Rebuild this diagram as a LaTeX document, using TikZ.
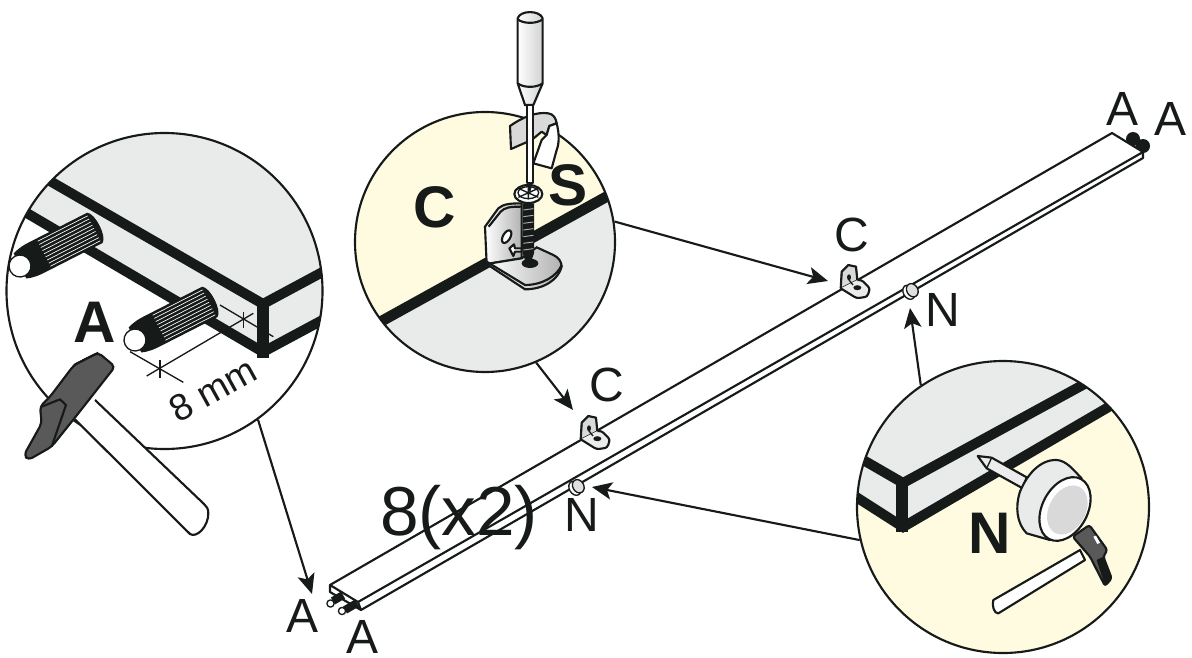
\documentclass[tikz,border=0pt]{standalone}
\usepackage{fontspec}
\setmainfont{Liberation Sans}
\usetikzlibrary{arrows.meta}
\definecolor{lensyellow}{HTML}{FFFBE0}
\definecolor{boardgray}{HTML}{E9EBEA}
\definecolor{ink}{HTML}{161A18}
\tikzset{
  lens/.style={circle,draw=ink,line width=1.6pt,inner sep=0pt,minimum size=#1},
  partlabel/.style={text=ink,inner sep=0pt,font=\fontsize{36}{36}\selectfont},
  lenslabel/.style={text=ink,inner sep=0pt,font=\fontsize{44}{44}\selectfont\bfseries},
  pointer/.style={draw=ink,line width=1.6pt,-{Stealth[length=15pt,width=13pt,inset=3.5pt]}},
  edge/.style={draw=ink,line width=1.6pt,line join=round},
  thin edge/.style={draw=ink,line width=1pt,line join=round},
  board/.style={draw=ink,line width=7.5pt},
  dowel/.pic={
    \fill[ink] (0,-14) .. controls (8,-17) and (14,-17) .. (20,-17) -- (84,-17)
        .. controls (91,-13) and (91,13) .. (84,17) -- (20,17)
        .. controls (14,17) and (8,17) .. (0,14) -- cycle;
    \foreach \s in {-14,-10.5,-7,-3.5,0,3.5,7,10.5,14}
      \draw[white,line width=.5pt] (27,\s) -- (83,\s);
    \draw[thin edge,fill=white] (0,0) ellipse [x radius=11,y radius=11];
  },
  clipbracket/.pic={
    \draw[thin edge,fill=gray!30] (-7.3,23.3) -- (-6.3,6.7) -- (0.3,0) -- (8,1.7) -- (9.3,15) -- cycle;
    \draw[edge,fill=gray!15,rounded corners=2pt] (-7.3,23.3) -- (8.7,33.3) -- (19.3,31.7) -- (22,23.3)
        -- (13.7,15) -- (9.3,15);
    \draw[edge] (-7.3,23.3) -- (-6.3,6.7) -- (0.3,0) -- (8,1.7) -- (9.3,15);
    \fill[ink] (1,12.3) ellipse [x radius=2,y radius=3];
    \fill[ink] (9.3,22.7) ellipse [x radius=4,y radius=2.5];
    \draw[thin edge] (1,15) -- (5,20);
  },
  capnail/.pic={
    \draw[thin edge,fill=white] (-2.5,0) ellipse [x radius=5.5,y radius=7.5];
    \draw[thin edge,fill=gray!25] (1.5,0) ellipse [x radius=5.5,y radius=7];
  },
  zoomA/.style={shift={(0,130)},scale=1/3},
  zoomC/.style={shift={(350,0)},scale=1/3},
  zoomN/.style={shift={(850,360)},scale=1/3},
}
\begin{document}
\begin{tikzpicture}[x=.75pt,y=-.75pt]
\useasboundingbox (0,0) rectangle (1192,657);

% long strip
\fill[ink] (1133,139) circle (7) (1143,146) circle (7);
\draw[edge,fill=white]
      (330,585) -- (1112,133) -- (1143,152) -- (358,602) -- cycle
      (330,585) -- (330,592) -- (361,610) -- (1143,158) -- (1143,152)
      (358,602) -- (361,610);
\draw[ink,line width=6pt] (343,595) -- (333,601) (357,603) -- (345,610);
\draw[thin edge,fill=white] (330.5,603.5) circle (3.6) (342,611) circle (3.6);

\pic at (848,265) {clipbracket};
\pic at (588,416) {clipbracket};
\pic[rotate=30] at (911,291) {capnail};
\pic[rotate=30] at (577,487) {capnail};

% lens A
\begin{scope}
\clip (164.5,291) circle (158);
\fill[white] (0,130) rectangle (330,450);
\fill[boardgray] (0,197) -- (263,352) -- (330,316) -- (330,130) -- (0,130) -- cycle;
\draw[board] (50,181) -- (263,304) -- (330,268);
\draw[board] (20,209) -- (263,352) -- (330,316);
\draw[ink,line width=8.5pt] (263,304) -- (263,358);
\pic[rotate=27] at (20,266) {dowel};
\pic[rotate=27] at (135,340) {dowel};
\begin{scope}[zoomA]
\draw[thin edge] (390,665) -- (550,757) (660,525) -- (820,620);
\draw[thin edge] (440,738) -- (760,550);
\draw[thin edge] (480,690) -- (480,745) (730,545) -- (730,595);
\end{scope}
\end{scope}
\node[lens=237pt] (lensA) at (164.5,291) {};
\node[lenslabel] (labelA) at (95,322) {A};
\node[text=ink,inner sep=0pt,rotate=29,font=\fontsize{28}{28}\selectfont] (labelmm) at (213,390) {8 mm};
\begin{scope}[zoomA]
\draw[edge,fill=white] (225,868) -- (570,1212) .. controls (590,1225) and (625,1190) .. (625,1150)
    .. controls (625,1135) and (620,1130) .. (612,1122) -- (285,810);
\draw[edge,fill=gray!70!black,rounded corners=3pt]
    (295,668) -- (345,710) -- (235,850) -- (155,950) -- (85,990) -- (72,975) -- (125,880)
    -- (120,830) -- (150,800) -- (222,705) -- cycle;
\draw[edge] (125,830) -- (180,808) -- (198,825) -- (155,950);
\draw[edge] (222,705) -- (295,668);
\end{scope}

% lens C
\begin{scope}
\clip (485,242) circle (130);
\fill[lensyellow] (350,110) rectangle (620,375);
\fill[boardgray] (375,325) -- (620,190) -- (620,375) -- (375,375) -- cycle;
\draw[ink,line width=8pt] (380,322) -- (615,192);
\end{scope}
\node[lens=195pt] (lensC) at (485,242) {};
\node[lenslabel] (labelC) at (435,207) {C};
\node[lenslabel] (labelS) at (568,185) {S};
\begin{scope}[zoomC]
\draw[edge,fill=gray!30] (480,378) .. controls (520,350) and (560,335) .. (595,340)
    .. controls (610,342) and (618,355) .. (620,370) -- (598,378) -- (590,405) -- (575,395)
    -- (545,420) -- (483,447) -- cycle;
\draw[edge,fill=white] (620,370) .. controls (628,400) and (628,430) .. (620,450) -- (605,505)
    -- (550,490) -- (575,420) -- (590,405) -- (598,378) -- cycle;
\shade[left color=white,right color=gray!35,draw=ink,line width=1.6pt]
    (503,55) .. controls (510,30) and (570,30) .. (578,55) -- (578,250) -- (550,315)
    -- (525,315) -- (503,250) -- cycle;
\draw[edge] (503,58) .. controls (520,72) and (560,72) .. (578,58);
\draw[edge] (503,250) .. controls (520,264) and (560,264) .. (578,250);
\draw[edge,fill=white] (530,315) -- (548,315) -- (548,548) -- (530,548) -- cycle;
% big bracket
\shade[left color=white,right color=gray!60,draw=ink,line width=1.6pt]
    (405,680) -- (445,625) .. controls (460,612) and (480,610) .. (515,610) -- (515,775) -- (410,792) -- cycle;
\shade[left color=white,right color=gray!60,draw=ink,line width=1.6pt]
    (410,792) -- (525,868) .. controls (580,868) and (625,840) .. (635,800)
    .. controls (635,785) and (625,772) .. (610,765) -- (560,742) -- (515,775) -- cycle;
\draw[edge] (416,680) -- (452,635) .. controls (465,622) and (480,620) .. (515,620);
\draw[edge] (410,785) -- (525,855) .. controls (575,855) and (620,830) .. (635,795);
\draw[edge,fill=white] (470,710) ellipse [x radius=21,y radius=11,rotate=60];
\draw[edge,fill=white] (478,745) -- (492,733) -- (495,745) -- (515,745) -- (515,755) -- (495,755) -- (490,768) -- cycle;
\fill[ink] (540,790) ellipse [x radius=25,y radius=14];
\fill[ink] (518,610) -- (552,610) -- (552,760) -- (540,795) -- (530,795) -- (518,760) -- cycle;
\foreach \t in {630,650,...,760}
  \draw[gray!60,line width=.7pt] (520,\t) -- (550,\t-4);
\draw[edge,fill=white] (535,582) ellipse [x radius=42,y radius=27];
\draw[thin edge] (535,578) ellipse [x radius=31,y radius=18];
\draw[thin edge] (505,565) -- (565,592) (505,592) -- (565,565) (535,560) -- (535,598);
\fill[ink] (530,548) -- (548,548) -- (540,580) -- cycle;
\end{scope}

% lens N
\begin{scope}
\clip (1003,507) circle (146);
\fill[lensyellow] (850,360) rectangle (1155,660);
\fill[boardgray] (850,493) -- (902,527) -- (1120,400) -- (1150,360) -- (850,360) -- cycle;
\draw[board] (858,457) -- (903,483) -- (1090,381);
\draw[board] (853,495) -- (903,527) -- (1112,405);
\draw[ink,line width=8.5pt] (902,483) -- (902,532);
\end{scope}
\node[lens=219pt] (lensN) at (1003,507) {};
\node[lenslabel] (labelN) at (990,533) {N};
\begin{scope}[zoomN]
\draw[edge,fill=gray!15] (383,288) -- (425,293) -- (530,352) -- (518,385) -- (410,325) -- cycle;
\draw[thin edge] (425,293) -- (410,325);
\draw[edge,fill=boardgray] (620,300) .. controls (650,302) and (670,330) .. (695,355) -- (600,540)
    -- (530,520) .. controls (500,490) and (495,440) .. (510,395) .. controls (530,345) and (570,298) .. (620,300) -- cycle;
\draw[edge,fill=white] (645,447) ellipse [x radius=102,y radius=68,rotate=62];
\fill[gray!30] (652,450) ellipse [x radius=78,y radius=55,rotate=62];
\draw[edge,fill=white] (430,720) -- (690,570) -- (705,600) -- (445,760) .. controls (432,762) and (425,735) .. (430,720) -- cycle;
\draw[edge,fill=gray!70!black,rounded corners=2pt] (668,530) -- (718,495) -- (772,570) -- (760,590)
    -- (785,655) -- (765,678) -- (720,590) -- cycle;
\fill[ink] (740,600) -- (760,590) -- (785,655) -- (765,678) -- cycle;
\fill[white] (730,530) -- (738,527) -- (750,548) -- (742,552) -- cycle;
\end{scope}

% labels
\node[partlabel] (partA0) at (303,616) {A};
\node[partlabel] (partA1) at (363,637) {A};
\node[partlabel] (partA2) at (1122,109) {A};
\node[partlabel] (partA3) at (1170,119) {A};
\node[partlabel] (partC0) at (607,385) {C};
\node[partlabel] (partC1) at (852,235) {C};
\node[partlabel] (partN0) at (582,515) {N};
\node[partlabel] (partN1) at (943,310) {N};
\node[text=ink,inner sep=0pt,font=\fontsize{52}{52}\selectfont] (partcount) at (459,518) {8(x2)};

\coordinate (pegend)    at (312,594);
\coordinate (clipslow)  at (573,410);
\coordinate (clipshigh) at (828,281);
\coordinate (nailhigh)  at (910,308);
\coordinate (naillow)   at (592,487);
\draw[pointer] (lensA.-54) -- (pegend);
\draw[pointer] (lensC.-67) -- (clipslow);
\draw[pointer] (lensC.9)   -- (clipshigh);
\draw[pointer] (lensN.124) -- (nailhigh);
\draw[pointer] (lensN.193) -- (naillow);
\end{tikzpicture}
\end{document}
